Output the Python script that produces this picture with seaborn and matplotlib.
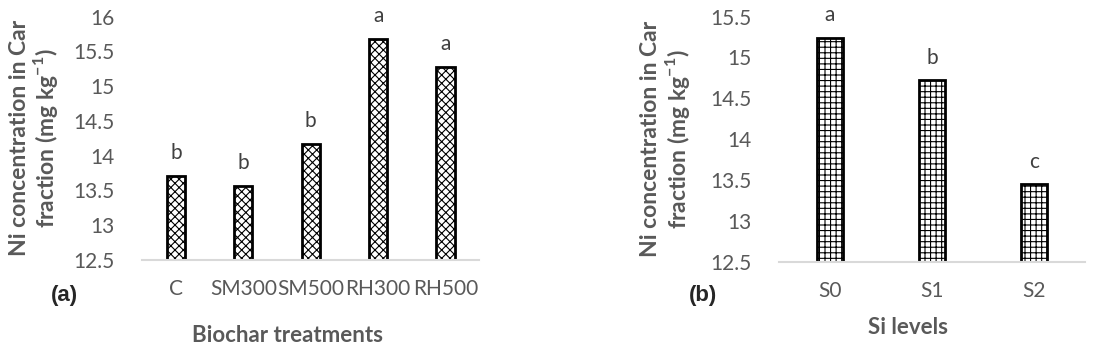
import numpy as np
import pandas as pd
import matplotlib
matplotlib.use("Agg")
import matplotlib.pyplot as plt
import seaborn as sns

# panel (a)
biochar = ["C", "SM300", "SM500", "RH300", "RH500"]
biochar_ni = [13.71, 13.57, 14.17, 15.68, 15.28]
biochar_letters = ["b", "b", "b", "a", "a"]

# panel (b)
si_levels = ["S0", "S1", "S2"]
si_ni = [15.24, 14.72, 13.45]
si_letters = ["a", "b", "c"]

sns.set_style("white")
plt.rcParams["font.family"] = ["Lato", "DejaVu Sans"]
plt.rcParams["hatch.linewidth"] = 0.8

grey = "#595959"
ylab = "Ni concentration in Car\nfraction (mg kg$^{\\mathregular{-1}}$)"

fig = plt.figure(figsize=(10.94, 3.54), dpi=100)
ax1 = fig.add_axes([0.130, 0.2655, 0.308, 0.6875])
ax2 = fig.add_axes([0.712, 0.261, 0.280, 0.692])


def draw(ax, cats, vals, letters, hatch, width, ylim, yticks, xlabel, tag, tag_x,
         ylab_x, xlab_xy):
    df = pd.DataFrame({"cat": cats, "val": vals})
    sns.barplot(data=df, x="cat", y="val", ax=ax, color="white",
                edgecolor="black", linewidth=2, width=width, saturation=1)
    for p in ax.patches:
        p.set_hatch(hatch)
    for i, (v, l) in enumerate(zip(vals, letters)):
        ax.annotate(l, (i, v), xytext=(0, 9), textcoords="offset points",
                    ha="center", va="bottom", fontsize=15, color="#404040")
    ax.set_ylim(*ylim)
    ax.set_yticks(yticks)
    ax.set_yticklabels([f"{t:g}" for t in yticks])
    ax.set_xlim(-0.5, len(cats) - 0.5)
    ax.tick_params(axis="both", length=0, labelsize=15, colors=grey)
    ax.tick_params(axis="y", pad=20)
    ax.tick_params(axis="x", pad=14)
    for s in ["top", "right", "left"]:
        ax.spines[s].set_visible(False)
    ax.spines["bottom"].set_color("#d9d9d9")
    ax.spines["bottom"].set_linewidth(1.5)
    ax.set_xlabel(xlabel, fontsize=16, fontweight="bold", color=grey)
    ax.xaxis.set_label_coords(*xlab_xy)
    ax.set_ylabel(ylab, fontsize=16.5, fontweight="bold", color=grey,
                  linespacing=1.05)
    ax.yaxis.set_label_coords(ylab_x, 0.5)
    fig.text(tag_x, 0.165, tag, fontsize=16, fontweight="bold",
             ha="center", va="center", family=["Liberation Sans", "DejaVu Sans"])


draw(ax1, biochar, biochar_ni, biochar_letters, "xxxx", 0.27,
     (12.5, 16), np.arange(12.5, 16.01, 0.5), "Biochar treatments", "(a)", 0.059,
     -0.245, (0.43, -0.265))
draw(ax2, si_levels, si_ni, si_letters, "+++", 0.255,
     (12.5, 15.5), np.arange(12.5, 15.51, 0.5), "Si levels", "(b)", 0.643,
     -0.285, (0.42, -0.225))

fig.savefig("out.png", dpi=100)
